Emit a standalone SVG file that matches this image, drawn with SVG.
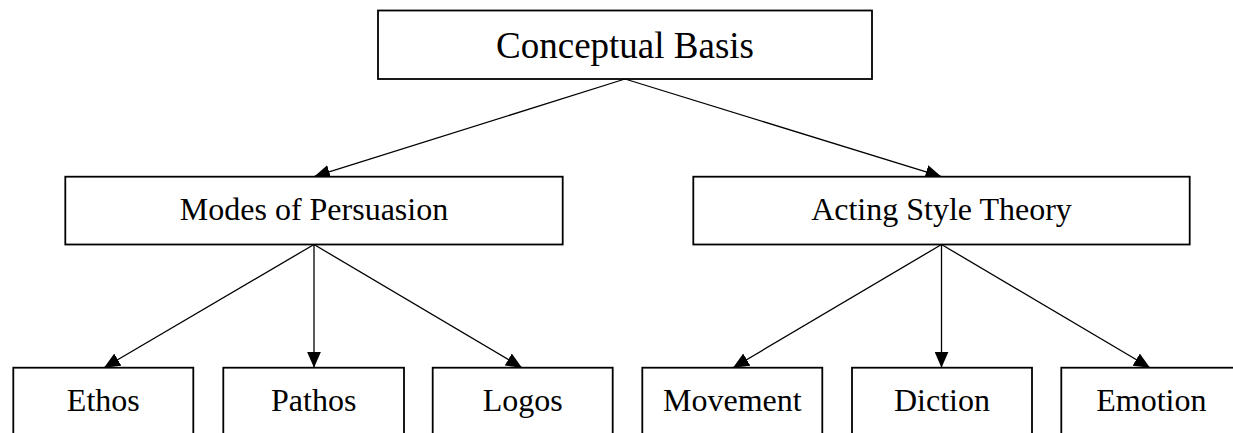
<svg xmlns="http://www.w3.org/2000/svg" width="1233" height="433" viewBox="0 0 1233 433">
  <style>
    .box { fill: #ffffff; stroke: #000000; stroke-width: 1.8; }
    .lbl { font-family: "Liberation Serif", "Times New Roman", serif; font-size: 32px; fill: #000000; text-anchor: middle; }
    .big { font-size: 37px; }
    .con { stroke: #000000; stroke-width: 1.3; fill: none; marker-end: url(#arrow); }
  </style>
  <defs>
    <marker id="arrow" markerUnits="userSpaceOnUse" markerWidth="16" markerHeight="14" refX="16" refY="7" orient="auto">
      <path d="M0,0 L16,7 L0,14 z" fill="#000000"/>
    </marker>
  </defs>
  <rect x="0" y="0" width="1233" height="433" fill="#ffffff"/>
  <g id="connectors">
    <line class="con" x1="625" y1="79" x2="314" y2="176.7"/>
    <line class="con" x1="625" y1="79" x2="941.5" y2="176.7"/>
    <line class="con" x1="314" y1="244.5" x2="104" y2="367.7"/>
    <line class="con" x1="314" y1="244.5" x2="314" y2="367.7"/>
    <line class="con" x1="314" y1="244.5" x2="522" y2="367.7"/>
    <line class="con" x1="941.5" y1="244.5" x2="733" y2="367.7"/>
    <line class="con" x1="941.5" y1="244.5" x2="941.5" y2="367.7"/>
    <line class="con" x1="941.5" y1="244.5" x2="1150" y2="367.7"/>
  </g>
  <g id="conceptual-basis">
    <rect class="box" x="378" y="10.5" width="494" height="68.5"/>
    <text class="lbl big" x="625" y="58">Conceptual Basis</text>
  </g>
  <g id="modes-of-persuasion">
    <rect class="box" x="65.3" y="176.7" width="497.4" height="67.8"/>
    <text class="lbl" x="314" y="220">Modes of Persuasion</text>
  </g>
  <g id="acting-style-theory">
    <rect class="box" x="693.3" y="176.7" width="496.4" height="67.8"/>
    <text class="lbl" x="941.5" y="220">Acting Style Theory</text>
  </g>
  <g id="ethos">
    <rect class="box" x="13.3" y="367.7" width="180" height="80"/>
    <text class="lbl" x="103.3" y="411">Ethos</text>
  </g>
  <g id="pathos">
    <rect class="box" x="223.3" y="367.7" width="180.7" height="80"/>
    <text class="lbl" x="313.7" y="411">Pathos</text>
  </g>
  <g id="logos">
    <rect class="box" x="432.7" y="367.7" width="180" height="80"/>
    <text class="lbl" x="522.7" y="411">Logos</text>
  </g>
  <g id="movement">
    <rect class="box" x="642.3" y="367.7" width="180" height="80"/>
    <text class="lbl" x="732.3" y="411">Movement</text>
  </g>
  <g id="diction">
    <rect class="box" x="852" y="367.7" width="180" height="80"/>
    <text class="lbl" x="942" y="411">Diction</text>
  </g>
  <g id="emotion">
    <rect class="box" x="1061.3" y="367.7" width="180" height="80"/>
    <text class="lbl" x="1151.3" y="411">Emotion</text>
  </g>
</svg>
